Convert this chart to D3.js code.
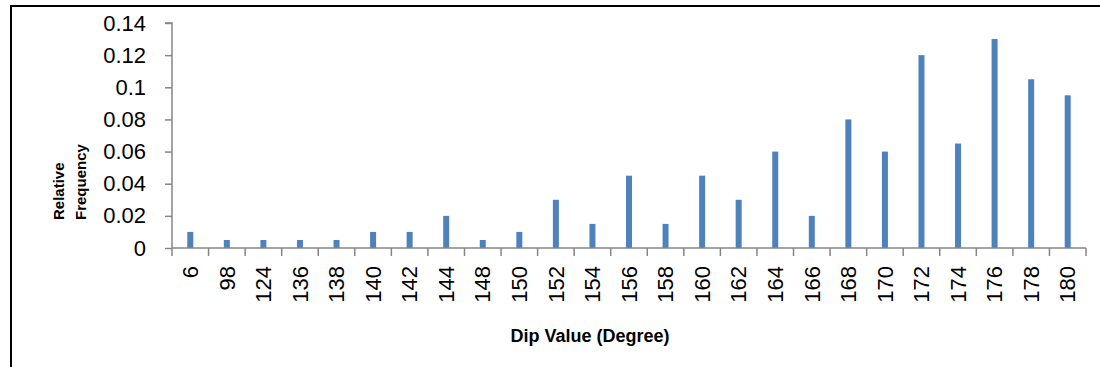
<!DOCTYPE html>
<html>
<head>
<meta charset="utf-8">
<script src="https://cdn.jsdelivr.net/npm/d3@7"></script>
<style>
  html, body { margin: 0; padding: 0; background: #fff; }
  svg { display: block; }
</style>
</head>
<body>
<svg id="chart" width="1100" height="367"></svg>
<script>
const categories = ["6","98","124","136","138","140","142","144","148","150","152","154","156","158","160","162","164","166","168","170","172","174","176","178","180"];
const values = [0.01,0.005,0.005,0.005,0.005,0.01,0.01,0.02,0.005,0.01,0.03,0.015,0.045,0.015,0.045,0.03,0.06,0.02,0.08,0.06,0.12,0.065,0.13,0.105,0.095];
const yTicks = [0,0.02,0.04,0.06,0.08,0.1,0.12,0.14];
const yTickLabels = ["0","0.02","0.04","0.06","0.08","0.1","0.12","0.14"];
const xTitle = "Dip Value (Degree)";
const yTitleLines = ["Relative","Frequency"];

(function () {
const svg = d3.select("#chart");
const pLeft = 172, pRight = 1086, pTop = 23, pBottom = 248;
const axisColor = "#868686";
const barColor = "#4F81BD";

// frame (partial, as in reference)
svg.append("line").attr("x1",11).attr("x2",1100).attr("y1",6).attr("y2",6).attr("stroke","#000").attr("stroke-width",2);
svg.append("line").attr("x1",11).attr("x2",11).attr("y1",5).attr("y2",367).attr("stroke","#000").attr("stroke-width",2);

const x = d3.scaleBand().domain(categories).range([pLeft, pRight]).paddingInner(0).paddingOuter(0);
const y = d3.scaleLinear().domain([0, 0.14]).range([pBottom, pTop]);

// bars
const barW = 6;
svg.append("g").selectAll("rect").data(values).join("rect")
  .attr("x", (d,i) => x(categories[i]) + x.bandwidth()/2 - barW/2)
  .attr("y", d => y(d))
  .attr("width", barW)
  .attr("height", d => y(0) - y(d))
  .attr("fill", barColor);

// y axis
const yAxis = d3.axisLeft(y).tickValues(yTicks).tickFormat((d,i) => yTickLabels[i]).tickSize(7).tickPadding(19);
const gy = svg.append("g").attr("transform", `translate(${pLeft},0)`).call(yAxis);
gy.select(".domain").attr("stroke", axisColor).attr("stroke-width", 1.5).attr("d", `M-7,${pTop}H0V${pBottom}`);
gy.selectAll(".tick line").attr("stroke", axisColor).attr("stroke-width", 1.5);
gy.selectAll(".tick text").attr("fill","#000").style("font-family","'Liberation Sans', Arial, sans-serif").style("font-size","22px");

// x axis
const xAxis = d3.axisBottom(x).tickSize(0).tickFormat(d => d);
const gx = svg.append("g").attr("transform", `translate(0,${pBottom})`).call(xAxis);
gx.select(".domain").attr("stroke", axisColor).attr("stroke-width", 1.5).attr("d", `M${pLeft},0H${pRight}`);
gx.selectAll(".tick line").remove();
gx.selectAll(".tick text")
  .attr("fill","#000")
  .style("font-family","'Liberation Sans', Arial, sans-serif").style("font-size","22px")
  .attr("transform","rotate(-90)")
  .attr("text-anchor","end")
  .attr("dy","0.35em")
  .attr("x",-18).attr("y",0);
// boundary tick marks
const bounds = categories.map(c => x(c)).concat([pRight]);
gx.append("g").selectAll("line").data(bounds).join("line")
  .attr("x1", d => d).attr("x2", d => d).attr("y1", 0).attr("y2", 8)
  .attr("stroke", axisColor).attr("stroke-width", 1.5);

// titles
svg.append("text").attr("x", 590).attr("y", 342).attr("text-anchor","middle")
  .style("font-family","'Liberation Sans', Arial, sans-serif").style("font-weight","bold").style("font-size","18px")
  .text(xTitle);
const yt = svg.append("text").attr("transform","translate(0,220) rotate(-90)")
  .style("font-family","'Liberation Sans', Arial, sans-serif").style("font-weight","bold").style("font-size","15px");
yt.append("tspan").attr("x",0).attr("y",64).text(yTitleLines[0]);
yt.append("tspan").attr("x",0).attr("y",86).text(yTitleLines[1]);
})();
</script>
</body>
</html>
